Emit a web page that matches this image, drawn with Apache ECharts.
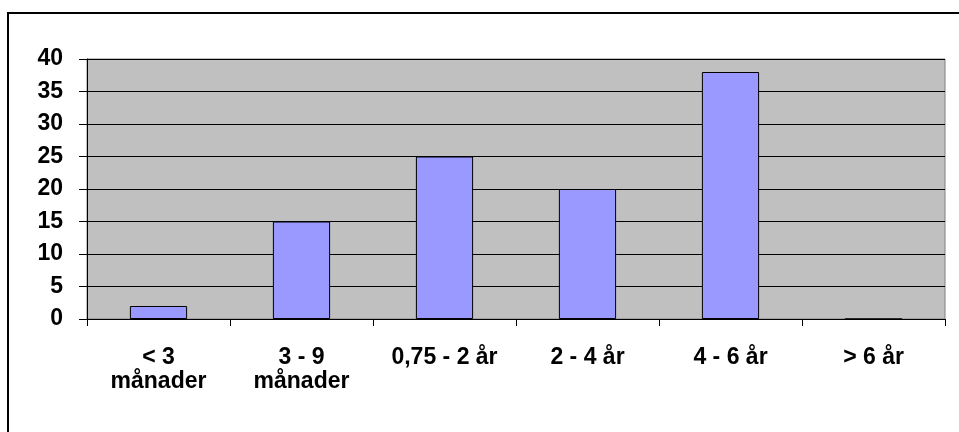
<!DOCTYPE html>
<html style="height: 100%">
<head>
    <meta charset="utf-8">
    <script src="https://cdn.jsdelivr.net/npm/echarts@6/dist/echarts.min.js"></script>
</head>
<body style="height: 100%; margin: 0; background: #fff">
<div id="container" style="width: 959px; height: 432px"></div>
<script type="text/javascript">
var categories = ['< 3\nmånader', '3 - 9\nmånader', '0,75 - 2 år', '2 - 4 år', '4 - 6 år', '> 6 år'];
var values = [2, 15, 25, 20, 38, 0];
var yTicks = { min: 0, max: 40, interval: 5 };

var chart = echarts.init(document.getElementById('container'));
var font = { fontFamily: 'Liberation Sans, Arial, sans-serif', fontWeight: 'bold', fontSize: 23, color: '#000' };

var option = {
    animation: false,
    backgroundColor: '#fff',
    graphic: [{
        type: 'rect',
        shape: { x: 8, y: 13, width: 1000, height: 500 },
        style: { fill: 'none', stroke: '#000', lineWidth: 2 },
        silent: true
    }],
    grid: {
        left: 87, top: 59, right: 14, bottom: 113,
        show: true,
        backgroundColor: '#C0C0C0',
        borderColor: '#808080',
        borderWidth: 1
    },
    xAxis: {
        type: 'category',
        data: categories,
        boundaryGap: true,
        axisLine: { lineStyle: { color: '#000', width: 1 } },
        axisTick: { show: true, alignWithLabel: false, length: 7, lineStyle: { color: '#000' } },
        axisLabel: Object.assign({ interval: 0, margin: 27, lineHeight: 24 }, font),
        splitLine: { show: false }
    },
    yAxis: {
        type: 'value',
        min: yTicks.min,
        max: yTicks.max,
        interval: yTicks.interval,
        axisLine: { show: true, lineStyle: { color: '#000', width: 1 } },
        axisTick: { show: true, length: 8, lineStyle: { color: '#000' } },
        axisLabel: Object.assign({ margin: 24 }, font),
        splitLine: { show: true, lineStyle: { color: '#000', width: 1 } }
    },
    series: [{
        type: 'bar',
        data: values,
        barWidth: '40%',
        itemStyle: { color: '#9999FF', borderColor: '#000', borderWidth: 1 }
    }]
};
chart.setOption(option);
</script>
</body>
</html>
